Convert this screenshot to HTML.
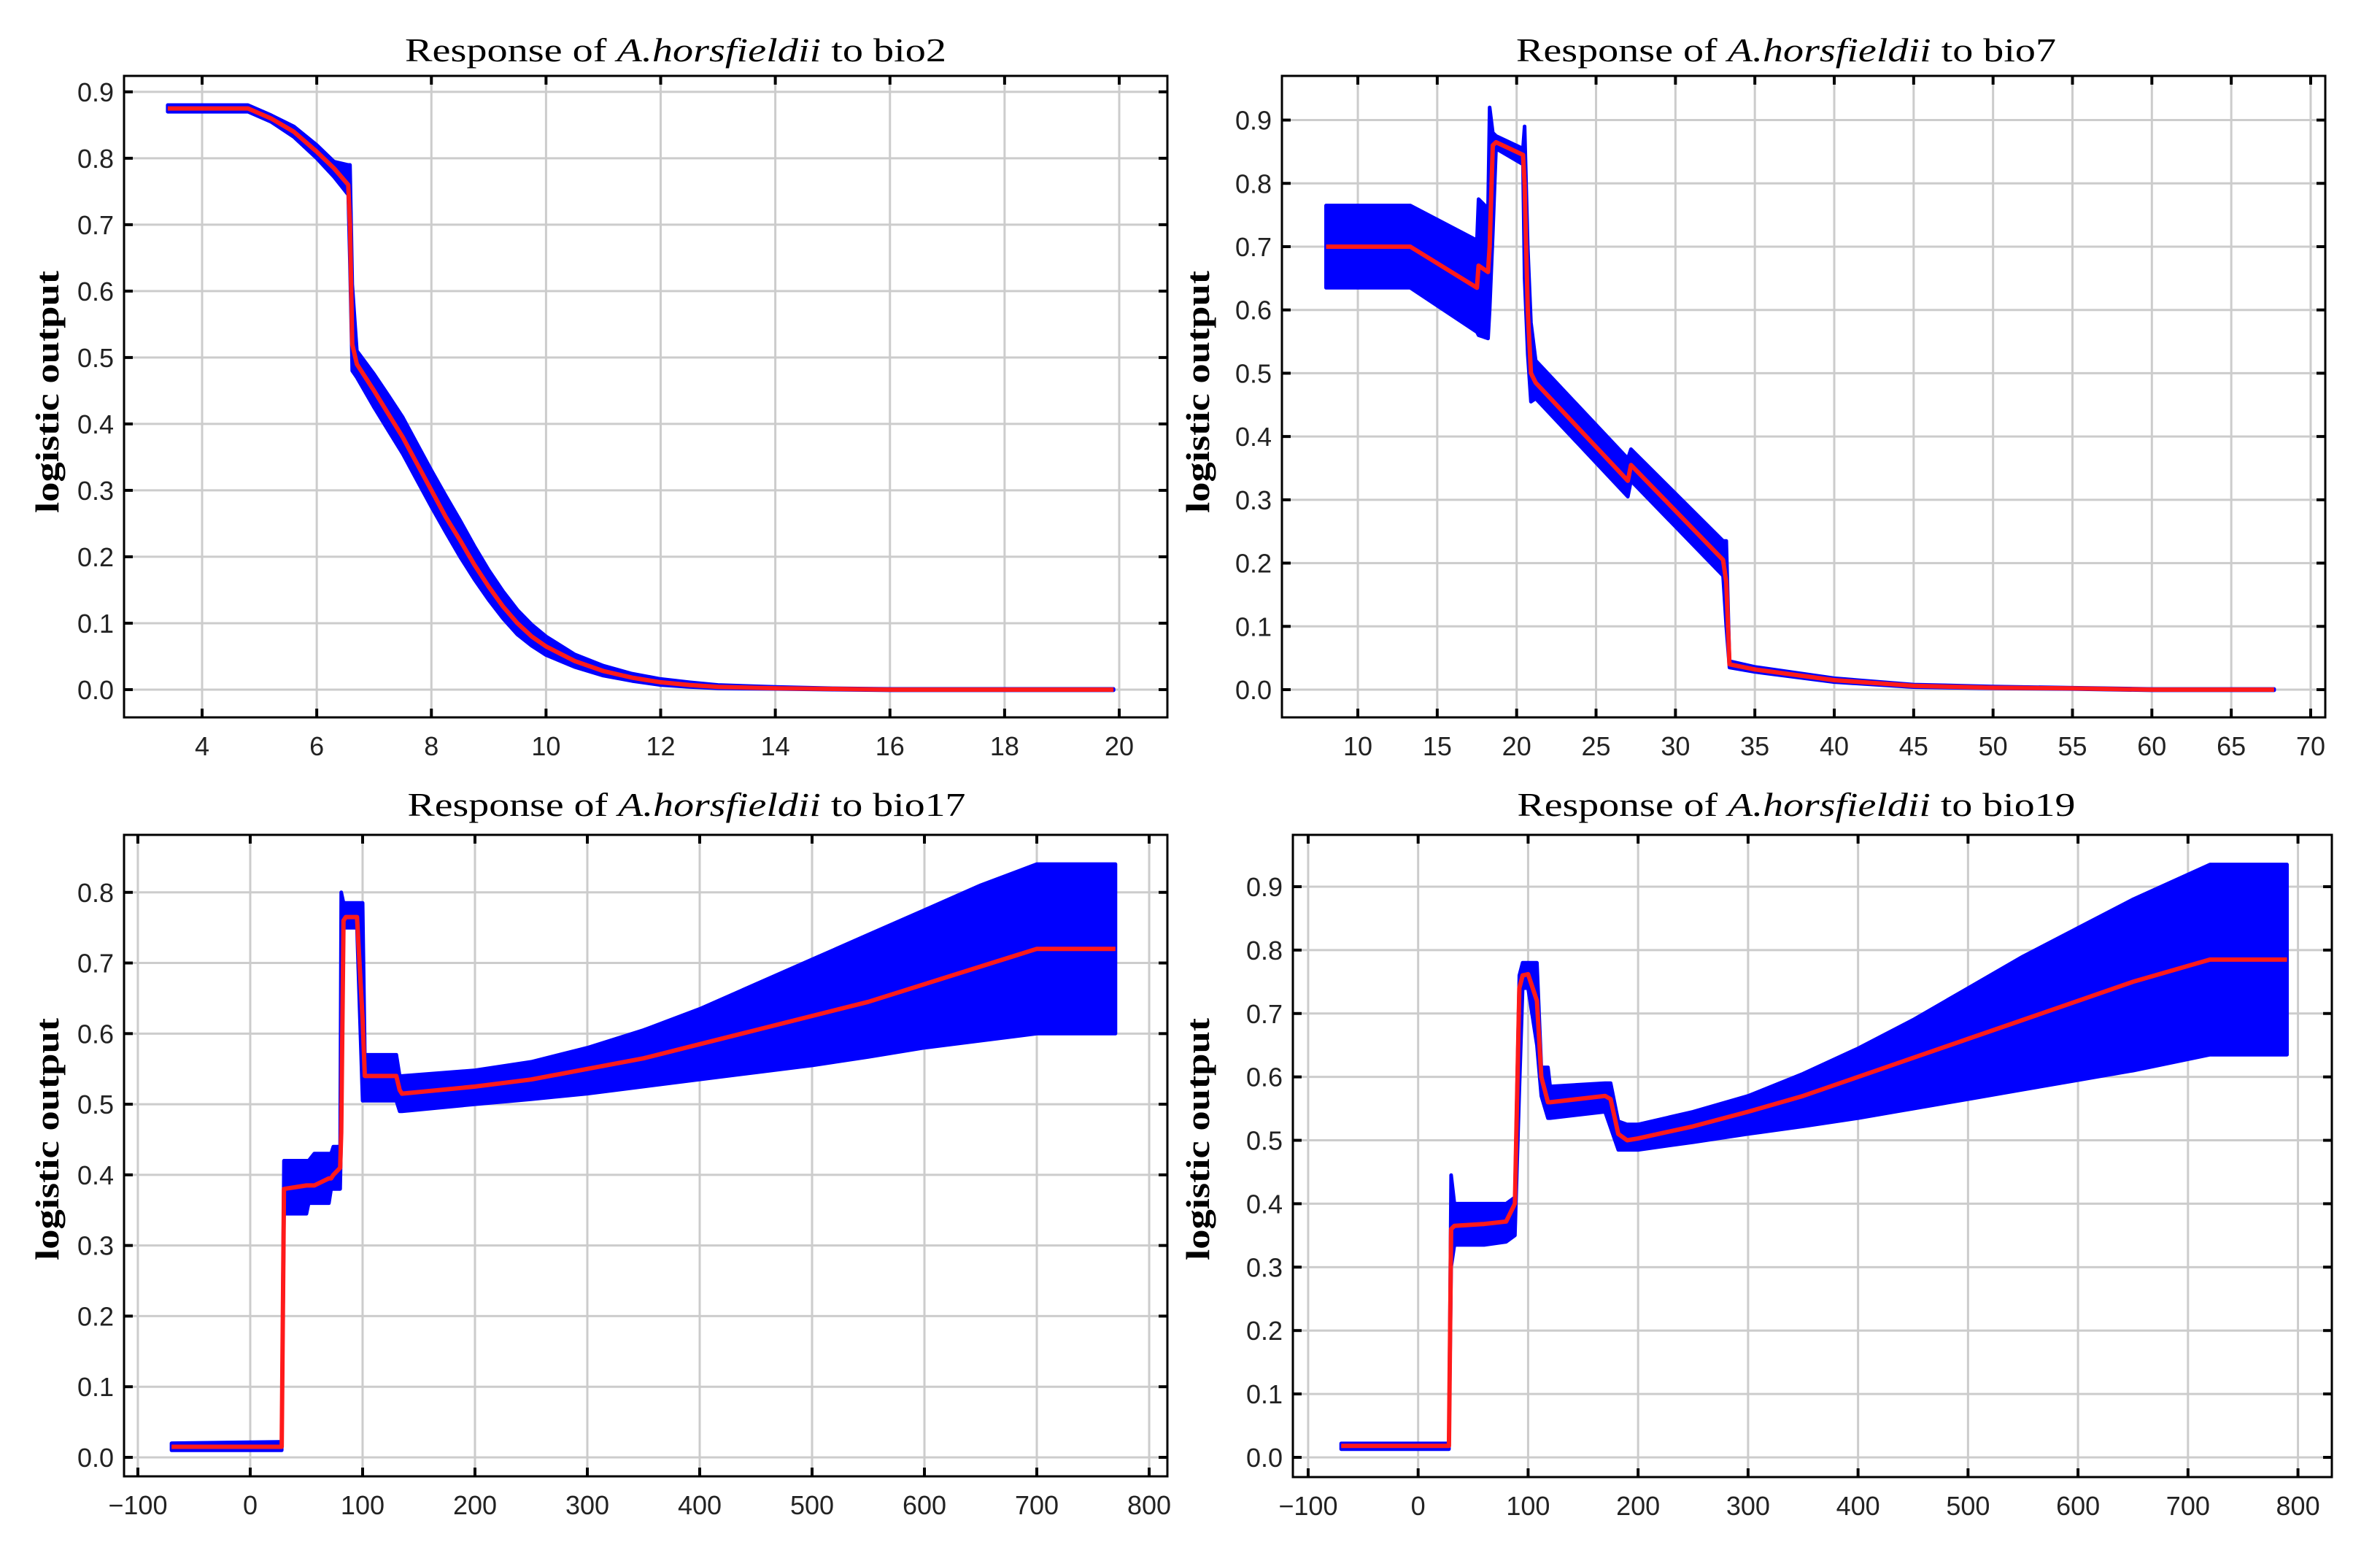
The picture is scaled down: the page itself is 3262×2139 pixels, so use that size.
<!DOCTYPE html>
<html><head><meta charset="utf-8"><style>
html,body{margin:0;padding:0;background:#fff;}
svg{display:block;}
</style></head><body>
<svg id="fig" xmlns="http://www.w3.org/2000/svg" width="3262" height="2139" viewBox="0 0 3262 2139"></svg>
<script>
// ---- bio2 ----
const bio2X = [3.4,4.8,5.2,5.6,6.0,6.3,6.55,6.58,6.62,6.7,7.0,7.25,7.5,7.75,8.0,8.25,8.5,8.75,9.0,9.25,9.5,9.75,10.0,10.5,11.0,11.5,12.0,12.5,13.0,14.0,15.0,16.0,19.9];
const bio2Mean = [0.875,0.875,0.86,0.84,0.81,0.785,0.76,0.70,0.52,0.49,0.45,0.415,0.38,0.34,0.30,0.26,0.225,0.188,0.155,0.125,0.10,0.08,0.065,0.043,0.028,0.018,0.011,0.007,0.004,0.002,0.001,0,0];
const bio2Upper = [0.88,0.88,0.865,0.848,0.82,0.795,0.79,0.79,0.61,0.51,0.475,0.443,0.41,0.37,0.33,0.292,0.255,0.216,0.18,0.148,0.12,0.098,0.08,0.053,0.036,0.024,0.016,0.011,0.007,0.004,0.002,0.001,0.001];
const bio2Lower = [0.87,0.87,0.855,0.832,0.80,0.772,0.745,0.64,0.48,0.47,0.425,0.39,0.355,0.315,0.275,0.237,0.2,0.166,0.135,0.107,0.083,0.066,0.052,0.034,0.021,0.013,0.007,0.004,0.002,0.001,0,-0.001,-0.001];
const bio2XTicks = [4,6,8,10,12,14,16,18,20];
const bio2YTicks = [0,0.1,0.2,0.3,0.4,0.5,0.6,0.7,0.8,0.9];
// ---- bio7 ----
const bio7X = [8,13.3,17.5,17.6,18.2,18.3,18.5,18.7,20.4,20.5,20.7,20.9,21.2,27,27.2,33,33.2,33.4,35,40,45,50,55,60,67.7];
const bio7Mean = [0.70,0.70,0.635,0.67,0.66,0.70,0.86,0.865,0.845,0.80,0.60,0.50,0.485,0.33,0.355,0.205,0.17,0.04,0.032,0.015,0.006,0.003,0.002,0.0,0.0];
const bio7Upper = [0.765,0.765,0.71,0.775,0.76,0.92,0.88,0.875,0.855,0.89,0.70,0.58,0.52,0.365,0.38,0.235,0.235,0.045,0.036,0.018,0.008,0.005,0.003,0.001,0.001];
const bio7Lower = [0.635,0.635,0.565,0.56,0.555,0.60,0.72,0.855,0.83,0.65,0.53,0.455,0.46,0.305,0.33,0.18,0.10,0.035,0.028,0.012,0.004,0.002,0.001,-0.001,-0.001];
const bio7XTicks = [10,15,20,25,30,35,40,45,50,55,60,65,70];
const bio7YTicks = [0,0.1,0.2,0.3,0.4,0.5,0.6,0.7,0.8,0.9];
// ---- bio17 ----
const bio17X = [-70,28,30,50,52,57,70,72,74,80,81,83,85,95,100,102,130,133,135,200,250,300,350,400,450,500,550,600,650,700,770];
const bio17Mean = [0.015,0.015,0.38,0.385,0.385,0.385,0.395,0.395,0.40,0.41,0.46,0.76,0.765,0.765,0.62,0.54,0.54,0.52,0.515,0.525,0.535,0.55,0.565,0.585,0.605,0.625,0.645,0.67,0.695,0.72,0.72];
const bio17Upper = [0.02,0.022,0.42,0.42,0.42,0.43,0.43,0.43,0.44,0.44,0.80,0.785,0.785,0.785,0.785,0.57,0.57,0.54,0.54,0.548,0.56,0.58,0.605,0.635,0.67,0.705,0.74,0.775,0.81,0.84,0.84];
const bio17Lower = [0.01,0.01,0.345,0.345,0.36,0.36,0.36,0.38,0.38,0.38,0.46,0.75,0.75,0.75,0.505,0.505,0.505,0.49,0.49,0.50,0.507,0.515,0.525,0.535,0.545,0.555,0.567,0.58,0.59,0.60,0.60];
const bio17XTicks = [-100,0,100,200,300,400,500,600,700,800];
const bio17YTicks = [0,0.1,0.2,0.3,0.4,0.5,0.6,0.7,0.8];
// ---- bio19 ----
const bio19X = [-70,28,30,33,60,80,88,92,95,100,108,112,118,120,170,175,182,190,200,250,300,350,400,450,500,550,600,650,720,790];
const bio19Mean = [0.018,0.018,0.36,0.365,0.368,0.372,0.40,0.74,0.76,0.762,0.72,0.60,0.56,0.56,0.57,0.565,0.51,0.50,0.503,0.522,0.545,0.57,0.6,0.63,0.66,0.69,0.72,0.75,0.785,0.785];
const bio19Upper = [0.022,0.022,0.445,0.40,0.40,0.40,0.41,0.76,0.78,0.78,0.78,0.615,0.615,0.585,0.59,0.59,0.53,0.525,0.525,0.545,0.57,0.605,0.645,0.69,0.74,0.79,0.835,0.88,0.935,0.935];
const bio19Lower = [0.013,0.013,0.30,0.335,0.335,0.34,0.35,0.58,0.74,0.74,0.65,0.57,0.535,0.535,0.545,0.52,0.485,0.485,0.485,0.497,0.51,0.522,0.535,0.55,0.565,0.58,0.595,0.61,0.635,0.635];
const bio19XTicks = [-100,0,100,200,300,400,500,600,700,800];
const bio19YTicks = [0,0.1,0.2,0.3,0.4,0.5,0.6,0.7,0.8,0.9];

const NS = 'http://www.w3.org/2000/svg';
const svg = document.getElementById('fig');
function mk(tag, attrs, parent){
  const e = document.createElementNS(NS, tag);
  for (const k in attrs) e.setAttribute(k, attrs[k]);
  (parent||svg).appendChild(e);
  return e;
}
function fmtX(v){ return v < 0 ? '\u2212' + Math.abs(v) : String(v); }

function panel(cfg){
  const g = mk('g', {});
  
  
  const b = cfg.box;
  const sx = v => b.x + (v - cfg.xd[0]) / (cfg.xd[1] - cfg.xd[0]) * b.w;
  const sy = v => b.y + b.h - (v - cfg.yd[0]) / (cfg.yd[1] - cfg.yd[0]) * b.h;
  cfg.xt.forEach(t => {
    const l = mk('line', {x1:sx(t), x2:sx(t), y1:b.y, y2:b.y+b.h, stroke:'#cccccc', 'stroke-width':3}, g);
    
    
  });
  cfg.yt.forEach(t => {
    const l = mk('line', {x1:b.x, x2:b.x+b.w, y1:sy(t), y2:sy(t), stroke:'#cccccc', 'stroke-width':3}, g);
    
    
  });
  let pts = [];
  for (let i=0;i<cfg.x.length;i++) pts.push(sx(cfg.x[i]).toFixed(1)+','+sy(cfg.up[i]).toFixed(1));
  for (let i=cfg.x.length-1;i>=0;i--) pts.push(sx(cfg.x[i]).toFixed(1)+','+sy(cfg.lo[i]).toFixed(1));
  const band = mk('polygon', {points:pts.join(' '), fill:'#0000ff', stroke:'#0000ff', 'stroke-width':5, 'stroke-linejoin':'round'}, g);
  
  
  const mp = cfg.x.map((v,i)=> sx(v).toFixed(1)+','+sy(cfg.mean[i]).toFixed(1)).join(' ');
  const ml = mk('polyline', {points:mp, fill:'none', stroke:'#ff1a1a', 'stroke-width':6, 'stroke-linejoin':'round'}, g);
  
  
  const r = mk('rect', {x:b.x, y:b.y, width:b.w, height:b.h, fill:'none', stroke:'#000', 'stroke-width':3}, g);
  
  
  cfg.xt.forEach(t => {
    const x = sx(t);
    mk('line', {x1:x, x2:x, y1:b.y, y2:b.y+12, stroke:'#000', 'stroke-width':4}, g);
    mk('line', {x1:x, x2:x, y1:b.y+b.h, y2:b.y+b.h-12, stroke:'#000', 'stroke-width':4}, g);
    const tx = mk('text', {x:x, y:b.y+b.h+52, 'text-anchor':'middle', 'font-family':'Liberation Sans Narrow, Liberation Sans, sans-serif', 'font-size':36, fill:'#222'}, g);
    tx.textContent = fmtX(t);
    
    
  });
  cfg.yt.forEach(t => {
    const y = sy(t);
    mk('line', {x1:b.x, x2:b.x+12, y1:y, y2:y, stroke:'#000', 'stroke-width':4}, g);
    mk('line', {x1:b.x+b.w, x2:b.x+b.w-12, y1:y, y2:y, stroke:'#000', 'stroke-width':4}, g);
    const tx = mk('text', {x:b.x-14, y:y+13, 'text-anchor':'end', 'font-family':'Liberation Sans Narrow, Liberation Sans, sans-serif', 'font-size':36, fill:'#222'}, g);
    tx.textContent = t.toFixed(1);
    
    
  });
  const ti = mk('text', {x:cfg.tx, y:cfg.ty, 'text-anchor':'middle', 'font-family':'Liberation Serif, serif', 'font-size':46, fill:'#000', textLength:cfg.tl, lengthAdjust:'spacingAndGlyphs'}, g);
  
  
  ti.appendChild(document.createTextNode('Response of '));
  const it = mk('tspan', {'font-style':'italic'}, ti); it.textContent = 'A.horsfieldii';
  ti.appendChild(document.createTextNode(' to ' + cfg.varName));
  const yl = mk('text', {x:0, y:0, transform:'translate('+cfg.lx+','+cfg.ly+') rotate(-90)', 'text-anchor':'middle', 'font-family':'Liberation Serif, serif', 'font-weight':'bold', 'font-size':46, fill:'#000', textLength:332, lengthAdjust:'spacingAndGlyphs'}, g);
  yl.textContent = 'logistic output';
  
  
}

panel({name:'bio2-panel', varName:'bio2', x:bio2X, mean:bio2Mean, up:bio2Upper, lo:bio2Lower, xt:bio2XTicks, yt:bio2YTicks,
  box:{x:170,y:104,w:1430,h:879}, xd:[2.638,20.84], yd:[-0.0418,0.924], tx:926, ty:84, tl:742, lx:80, ly:537});
panel({name:'bio7-panel', varName:'bio7', x:bio7X, mean:bio7Mean, up:bio7Upper, lo:bio7Lower, xt:bio7XTicks, yt:bio7YTicks,
  box:{x:1757,y:104,w:1430,h:879}, xd:[5.22,70.92], yd:[-0.0438,0.9698], tx:2448, ty:84, tl:740, lx:1657, ly:537});
panel({name:'bio17-panel', varName:'bio17', x:bio17X, mean:bio17Mean, up:bio17Upper, lo:bio17Lower, xt:bio17XTicks, yt:bio17YTicks,
  box:{x:170,y:1144,w:1430,h:879}, xd:[-112.3,816.2], yd:[-0.0269,0.8814], tx:941, ty:1118, tl:765, lx:80, ly:1561});
panel({name:'bio19-panel', varName:'bio19', x:bio19X, mean:bio19Mean, up:bio19Upper, lo:bio19Lower, xt:bio19XTicks, yt:bio19YTicks,
  box:{x:1772,y:1144,w:1424,h:880}, xd:[-113.9,830.8], yd:[-0.0311,0.9817], tx:2462, ty:1118, tl:765, lx:1657, ly:1561});
</script>
</body></html>
